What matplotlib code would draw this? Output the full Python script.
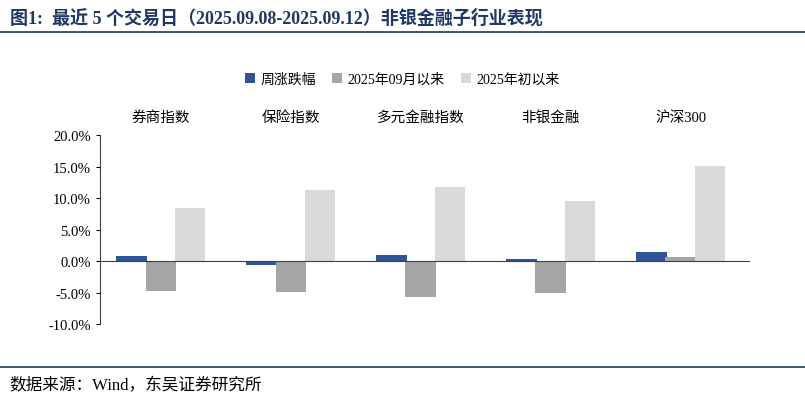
import matplotlib
matplotlib.use("Agg")
import matplotlib.pyplot as plt
import numpy as np
from matplotlib.lines import Line2D

plt.rcParams['font.family'] = ['Liberation Serif', 'Noto Sans CJK SC']

categories = ['券商指数', '保险指数', '多元金融指数', '非银金融', '沪深300']
series_names = ['周涨跌幅', '2025年09月以来', '2025年初以来']
weekly = [0.8, -0.7, 1.0, 0.4, 1.4]
since_sep = [-4.8, -4.9, -5.7, -5.0, 0.7]
since_year = [8.5, 11.2, 11.7, 9.6, 15.1]
colors = ['#2F5597', '#A6A6A6', '#D9D9D9']
yticks = [-10, -5, 0, 5, 10, 15, 20]

fig = plt.figure(figsize=(8.05, 4.02), dpi=100)
ax = fig.add_axes([0.124, 0.1915, 0.807, 0.470])
x = np.arange(len(categories))
w = 0.235
for i, (vals, c, n) in enumerate(zip([weekly, since_sep, since_year], colors, series_names)):
    ax.bar(x + (i - 1) * 0.225 - 0.03, vals, width=w, color=c, label=n)
ax.set_xlim(-0.5, len(categories) - 0.5)
ax.set_ylim(-10, 20)
ax.set_yticks(yticks)
ax.set_yticklabels([f'{v:.1f}%' for v in yticks], fontsize=10.5)
ax.spines['top'].set_visible(False)
ax.spines['right'].set_visible(False)
ax.spines['bottom'].set_position(('data', 0))
ax.spines['left'].set_color('#404040')
ax.spines['bottom'].set_color('#404040')
ax.set_xticks(np.arange(len(categories) + 1) - 0.5)
ax.set_xticklabels([])
ax.tick_params(axis='x', direction='in', length=0)
ax.tick_params(axis='y', direction='out', length=3)
for xi, cat in zip(x, categories):
    ax.text(xi - 0.03, 1.06, cat, transform=ax.get_xaxis_transform(), ha='center', va='bottom', fontsize=10.5)

fig.legend(loc='center', bbox_to_anchor=(0.5, 0.80), ncol=3, frameon=False, fontsize=10,
           handlelength=0.7, handleheight=0.7, columnspacing=1.2, handletextpad=0.4)

fig.text(0.012, 0.955, '图1:  最近 5 个交易日（2025.09.08-2025.09.12）非银金融子行业表现',
         fontsize=13, fontweight='bold', color='#1F3864', va='center')
fig.add_artist(Line2D([0.0, 1.0], [0.918, 0.918], color='#1F3864', lw=1.2))
fig.add_artist(Line2D([0.0, 1.0], [0.085, 0.085], color='#1F3864', lw=1.2))
fig.text(0.012, 0.04, '数据来源：Wind，东吴证券研究所', fontsize=12, va='center')
fig.savefig('out.png', dpi=100)
